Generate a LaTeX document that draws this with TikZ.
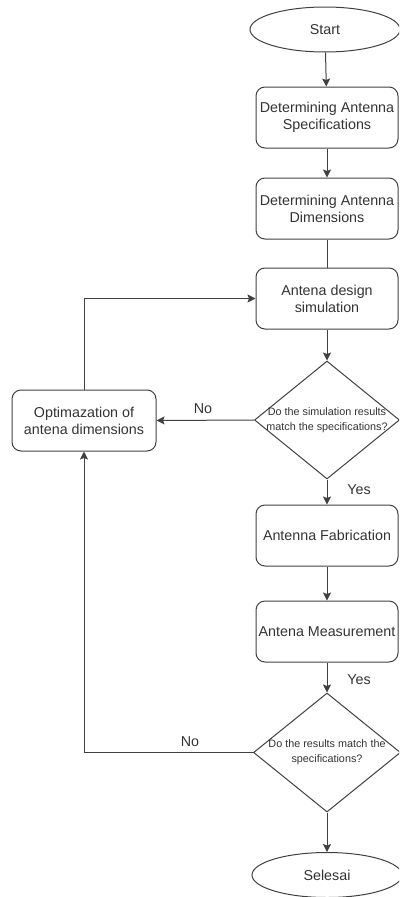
\documentclass[tikz,border=0pt]{standalone}
\usepackage{fontspec}
\setmainfont{Liberation Sans}
\usetikzlibrary{shapes.geometric,arrows.meta}
\tikzset{
  ln/.style={draw=black!75, line width=1pt},
  arr/.style={ln, -{Stealth[length=8pt,width=8pt,inset=1.5pt]}},
  boxtext/.style={font=\fontsize{14.3pt}{17pt}\selectfont, text=black!80, align=center},
  stepbox/.style={boxtext, ln, rectangle, rounded corners=9pt, minimum width=142pt, minimum height=61pt, inner sep=1pt},
  terminal/.style={boxtext, ln, ellipse, minimum width=150pt, minimum height=45pt, inner sep=0pt},
  decision/.style={ln, diamond, minimum width=145pt, minimum height=118pt, inner sep=0pt},
  dtext/.style={font=\fontsize{10.8pt}{15pt}\selectfont, text=black!80, align=center, inner sep=0pt},
  lbl/.style={boxtext, inner sep=0pt}
}
\begin{document}
\begin{tikzpicture}[x=1pt,y=-1pt]
\clip (0,0) rectangle (399,897);
\node[terminal] (start) at (325,29.5) {Start};
\node[stepbox] (b1) at (327,117.5) {Determining Antenna\\Specifications};
\node[stepbox] (b2) at (327,208.5) {Determining Antenna\\Dimensions};
\node[stepbox] (b3) at (327,298.5) {Antena design\\simulation};
\node[decision] (d1) at (327,420) {};
\node[dtext] (d1t) at (d1.center) {Do the simulation results\\match the specifications?};
\node[stepbox, minimum width=144pt] (opt) at (84,420.5) {Optimazation of\\antena dimensions};
\node[stepbox] (b4) at (327,535.5) {Antenna Fabrication};
\node[stepbox] (b5) at (327,631.5) {Antena Measurement};
\node[decision, minimum width=147pt, minimum height=119pt] (d2) at (327,752.5) {};
\node[dtext] (d2t) at (d2.center) {Do the results match the\\specifications?};
\node[terminal] (end) at (327,875) {Selesai};

\draw[arr] (start) -- (b1);
\draw[arr] (b1) -- (b2);
\draw[ln] (b2) -- (b3);
\draw[arr] (b3) -- (d1);
\draw[arr] (d1.west) -- (opt.east);
\node[lbl] (no1) at (203,409) {No};
\draw[arr] (opt.north) |- (b3.west);
\draw[arr] (d1.south) -- (b4);
\node[lbl] (yes1) at (359,490) {Yes};
\draw[arr] (b4) -- (b5);
\draw[arr] (b5) -- (d2);
\node[lbl] (yes2) at (359,680) {Yes};
\draw[arr] (d2.west) -| (opt.south);
\node[lbl] (no2) at (190,742) {No};
\draw[arr] (d2) -- (end);
\end{tikzpicture}
\end{document}
